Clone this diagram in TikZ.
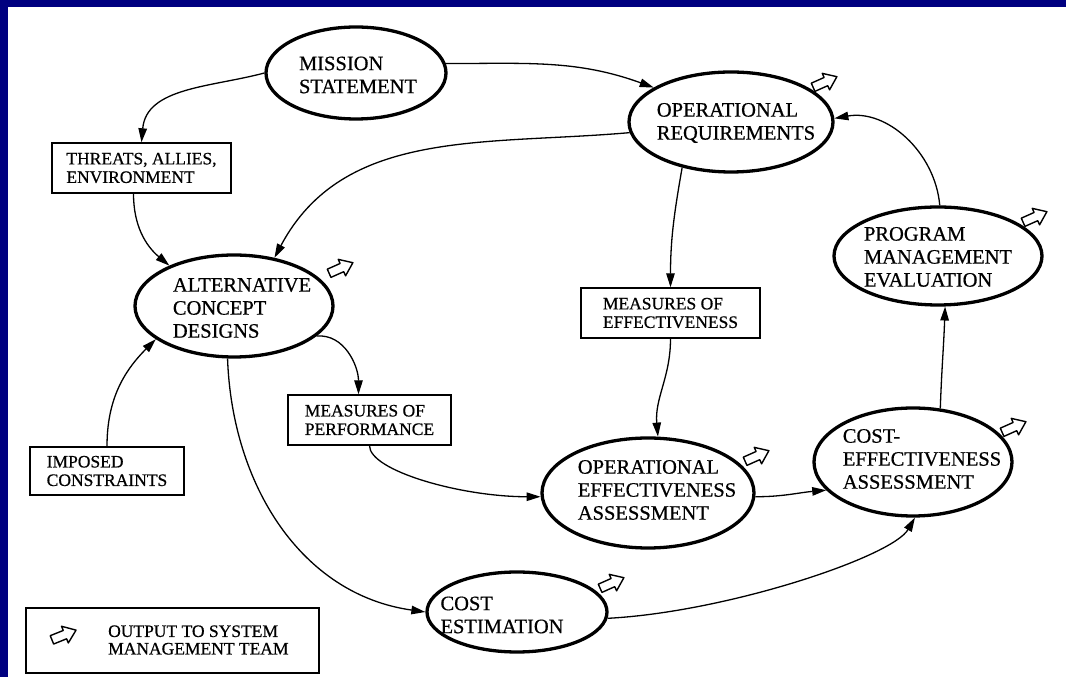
\documentclass[tikz,border=0pt]{standalone}
\usepackage{fontspec}
\setmainfont{Liberation Serif}
\newfontfamily\inkfont{Liberation Serif}[FakeBold=0.6]
\usetikzlibrary{shapes.geometric,arrows.meta}
\definecolor{navyband}{RGB}{0,0,128}
\begin{document}
\begin{tikzpicture}[x=1pt,y=1pt,
  proc/.style={ellipse, draw, line width=3.3pt, inner sep=0pt},
  proctext/.style={align=left, font=\inkfont\fontsize{20.5}{23}\selectfont, inner sep=0pt},
  infobox/.style={draw, line width=1.4pt, align=left, inner sep=0pt,
                  font=\inkfont\fontsize{17.5}{18.5}\selectfont},
  legendtext/.style={align=left, inner sep=0pt, font=\inkfont\fontsize{17.5}{17.5}\selectfont},
  flow/.style={line width=1.3pt, -{Triangle[length=14pt,width=8.5pt]}},
  outarrow/.pic={
    \draw[line width=1.4pt, line join=round]
      (-13,-4.5) -- (1,-4.5) -- (1,-9) -- (13,0) -- (1,9) -- (1,4.5) -- (-13,4.5) -- cycle;
  }
]
\useasboundingbox (0,0) rectangle (1066,677);
% page and frame
\fill[white] (0,0) rectangle (1066,677);
\fill[navyband] (0,670) rectangle (1066,677);
\fill[navyband] (0,0) rectangle (8,677);

% process ellipses
\node[proc, minimum width=180pt, minimum height=92pt]  (ms)    at (356,604) {};
\node[proc, minimum width=204pt, minimum height=100pt] (opreq) at (731,555) {};
\node[proc, minimum width=198pt, minimum height=102pt] (alt)   at (234,371) {};
\node[proc, minimum width=208pt, minimum height=98pt]  (pme)   at (938,421) {};
\node[proc, minimum width=212pt, minimum height=110pt] (oea)   at (648,184) {};
\node[proc, minimum width=198pt, minimum height=108pt] (cea)   at (913,215) {};
\node[proc, minimum width=180pt, minimum height=80pt]  (ce)    at (517,65)  {};

\node[proctext] (mstext)    at (358,602) {MISSION\\STATEMENT};
\node[proctext] (opreqtext) at (736,554) {OPERATIONAL\\REQUIREMENTS};
\node[proctext] (alttext)   at (242,369) {ALTERNATIVE\\CONCEPT\\DESIGNS};
\node[proctext] (pmetext)   at (938,420) {PROGRAM\\MANAGEMENT\\EVALUATION};
\node[proctext] (oeatext)   at (657,187) {OPERATIONAL\\EFFECTIVENESS\\ASSESSMENT};
\node[proctext] (ceatext)   at (922,218) {COST-\\EFFECTIVENESS\\ASSESSMENT};
\node[proctext] (cetext)    at (502,62)  {COST\\ESTIMATION};

% information boxes
\node[infobox, minimum width=179pt, minimum height=50pt] (thr) at (141.5,509) {THREATS, ALLIES,\\ENVIRONMENT};
\node[infobox, minimum width=179pt, minimum height=50pt] (moe) at (670.5,364) {MEASURES OF\\EFFECTIVENESS};
\node[infobox, minimum width=163pt, minimum height=50pt] (mop) at (369.5,257) {MEASURES OF\\PERFORMANCE};
\node[infobox, minimum width=154pt, minimum height=48pt] (imp) at (107,206)   {IMPOSED\\CONSTRAINTS};

% outputs to the system management team
\pic[rotate=24] at (341,409) {outarrow};
\pic[rotate=24] at (825,595) {outarrow};
\pic[rotate=24] at (1035,460) {outarrow};
\pic[rotate=24] at (757,221) {outarrow};
\pic[rotate=24] at (1014,250) {outarrow};
\pic[rotate=24] at (612,94) {outarrow};

% legend
\node[draw, line width=1.4pt, minimum width=293pt, minimum height=65pt, inner sep=0pt] (legend) at (172.5,36.5) {};
\pic[rotate=22] at (64,42) {outarrow};
\node[legendtext, anchor=west] (legendlabel) at (108,37) {OUTPUT TO SYSTEM\\MANAGEMENT TEAM};

% flows
\draw[flow] (ms.west) to[out=195,in=85] (thr.north);
\draw[flow] (ms.6) to[out=0,in=160] (opreq.156);
\draw[flow] (opreq.186) to[out=185,in=62] (alt.50);
\draw[flow] ([xshift=-8pt]thr.south) to[out=-90,in=140] (alt.148);
\draw[flow] (opreq.223) to[out=-100,in=90] (moe.north);
\draw[flow] (moe.south) to[out=-90,in=95] (oea.80);
\draw[flow] (alt.-20) to[out=5,in=90] ([xshift=-11pt]mop.north);
\draw[flow] (mop.south) to[out=-90,in=180,out distance=25pt,in distance=80pt] (oea.182);
\draw[flow] (imp.north) to[out=90,in=225] (alt.203);
\draw[flow] (alt.263) to[out=-88,in=172] (ce.west);
\draw[flow] (oea.-2) to[out=0,in=185] (cea.198);
\draw[flow] (ce.-4) to[out=3,in=-120,out distance=120pt,in distance=45pt] (cea.-88);
\draw[flow] (cea.63) to[out=88,in=-92] (pme.-82);
\draw[flow] (pme.88) to[out=95,in=10] (opreq.2);
\end{tikzpicture}
\end{document}
